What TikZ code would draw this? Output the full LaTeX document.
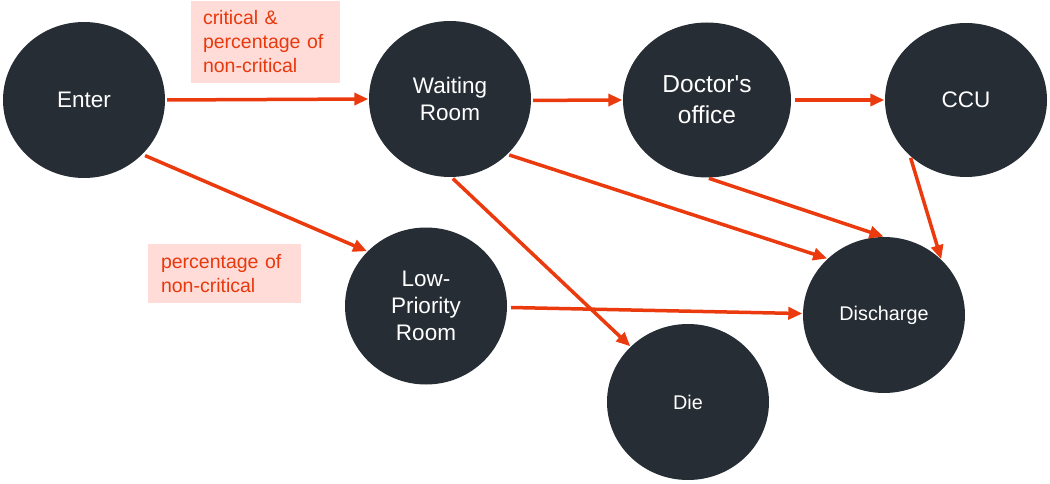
\documentclass[tikz,border=0pt]{standalone}
\usepackage{fontspec}
\setmainfont{Liberation Sans}
\usetikzlibrary{shapes.geometric,arrows.meta}
\definecolor{nodefill}{HTML}{262D34}
\definecolor{arrowred}{HTML}{EA3A0E}
\definecolor{lbltext}{HTML}{E8380D}
\definecolor{lblfill}{HTML}{FFDCD7}
\tikzset{
  stnode/.style={ellipse, fill=nodefill, text=white, inner sep=0pt,
    minimum width=162pt, minimum height=156pt, align=center,
    font=\fontsize{22.5pt}{27pt}\selectfont},
  smallnode/.style={stnode, font=\fontsize{19.8pt}{23pt}\selectfont},
  lbl/.style={rectangle, fill=lblfill, text=lbltext, inner sep=0pt, align=left,
    font=\fontsize{19.5pt}{24pt}\selectfont},
  flow/.style={draw=arrowred, line width=3.5pt,
    -{Triangle[length=14pt,width=12pt]}, shorten <=2pt, shorten >=0.5pt},
}
\begin{document}
\begin{tikzpicture}[x=1pt,y=-1pt]
\useasboundingbox (0,0) rectangle (1050,484);
\node[stnode] (enter) at (84,100) {Enter};
\node[stnode] (wait) at (450,99) {Waiting\\Room};
\node[stnode, minimum width=168pt, minimum height=155pt,
  font=\fontsize{24.5pt}{31pt}\selectfont] (doc) at (707,100) {Doctor\textquotesingle s\\office};
\node[stnode, minimum height=154pt] (ccu) at (966,100) {CCU};
\node[stnode, minimum height=157pt] (low) at (426,306) {Low-\\Priority\\Room};
\node[smallnode] (dis) at (884,315) {Discharge};
\node[smallnode] (die) at (688,402) {Die};

\node[lbl, minimum width=149pt, minimum height=82pt, text width=125pt] (l1) at (265.5,42) {critical \&\\percentage of\\non-critical};
\node[lbl, minimum width=153pt, minimum height=59pt, text width=127pt] (l2) at (224.5,273.5) {percentage of\\non-critical};

\draw[flow] (enter.0) -- (wait.180);
\draw[flow] (wait.-1) -- (doc.180);
\draw[flow, shorten <=4pt] (doc.0) -- (ccu.180);
\draw[flow, shorten <=3pt] (enter.-43) -- (low.137);
\draw[flow] (wait.-89) -- (die.136);
\draw[flow] (wait.-44) -- (dis.135.5);
\draw[flow] (doc.-90) -- (dis.90);
\draw[flow] (ccu.-135.5) -- (dis.44);
\draw[flow, shorten <=4pt] (low.-1.5) -- (dis.179);
\end{tikzpicture}
\end{document}
